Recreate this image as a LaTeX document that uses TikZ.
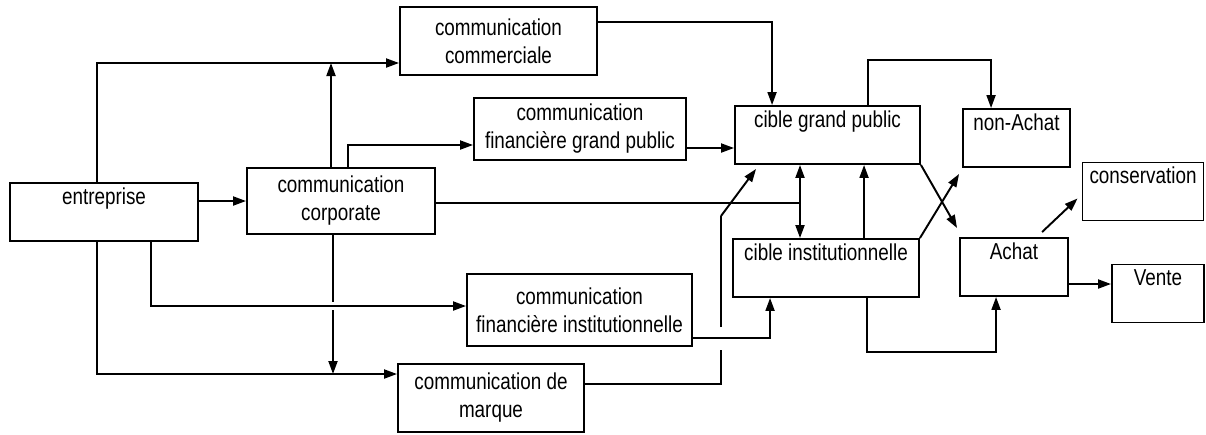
\documentclass[tikz,border=0pt]{standalone}
\usepackage{fontspec}
\setmainfont{Liberation Sans}[FakeStretch=0.82]
\usetikzlibrary{arrows.meta,calc}

\begin{document}
\begin{tikzpicture}[x=0.02cm,y=-0.02cm,line width=1.1pt,
  box/.style={draw,align=center,inner sep=0pt,font=\fontsize{13.1pt}{15.9pt}\selectfont},
  topbox/.style={box,inner ysep=0.08cm,text height=0.34cm,text depth=0.66cm},
  arr/.style={-{Triangle[length=0.26cm,width=0.18cm]}},
  dbl/.style={{Triangle[length=0.26cm,width=0.18cm]}-{Triangle[length=0.26cm,width=0.18cm]}}]
\useasboundingbox (0,0) rectangle (1206,434);

\node[topbox,minimum width=3.76cm] (E) at (104,212) {entreprise};
\node[box,minimum width=3.76cm,minimum height=1.32cm] (CO) at (341,201) {communication\\corporate};
\node[box,minimum width=3.94cm,minimum height=1.36cm] (CM) at (498.5,41) {communication\\commerciale};
\node[box,minimum width=4.24cm,minimum height=1.24cm] (FG) at (580,129) {communication\\financière grand public};
\node[box,minimum width=4.5cm,minimum height=1.44cm] (FI) at (579.5,310) {communication\\financière institutionnelle};
\node[box,minimum width=3.72cm,minimum height=1.36cm] (MQ) at (491,398) {communication de\\marque};
\node[topbox,minimum width=3.7cm] (GP) at (827.5,135) {cible grand public};
\node[topbox,minimum width=3.72cm] (CI) at (826,268) {cible institutionnelle};
\node[topbox,minimum width=2.14cm] (NA) at (1016.5,138) {non-Achat};
\node[topbox,minimum width=2.42cm] (CS) at (1143,191.5) {conservation};
\node[topbox,minimum width=2.16cm] (A) at (1014,267) {Achat};
\node[topbox,minimum width=1.84cm] (V) at (1158,293.5) {Vente};

\coordinate (J1) at (331,63);
\coordinate (J2) at (333,374);
\coordinate (H1) at (333,302);
\coordinate (H2) at (333,310);
\coordinate (JD) at (800,203);
\coordinate (K1) at (721,350);
\coordinate (K2) at (721,327);
\coordinate (K3) at (721,216);

\draw[arr] (E.east |- CO) -- (CO);
\draw[arr] ($(E.north)+(-7,0)$) |- ($(CM.west)+(0,22)$);
\draw[arr] (CO.north -| J1) -- (J1);
\draw[arr] ($(CO.north)+(7,0)$) |- ($(FG.west)+(0,16)$);
\draw (CO.east |- JD) -- (JD);
\draw[dbl] (GP.south -| JD) -- (CI.north -| JD);
\draw[arr] ($(E.south)+(-7,0)$) |- ($(MQ.west)+(0,-24)$);
\draw[arr] ($(E.south)+(47,0)$) |- ($(FI.west)+(0,-4)$);
\draw (CO.south -| H1) -- (H1);
\draw[arr] (H2) -- (J2);

\draw[arr] ($(CM.east)+(0,-19)$) -| ($(GP.north west)+(38,0)$);
\draw[arr] ($(FG.east)+(0,19)$) -- ($(GP.west)+(0,13)$);
\draw ($(MQ.east)+(0,-14)$) -| (K1);
\draw (K2) -- (K3);
\draw[arr] (K3) -- ($(GP.south west)+(22,4)$);
\draw[arr] ($(FI.east)+(0,28)$) -| ($(CI.south west)+(38,0)$);

\draw[arr] ($(CI.north west)+(132,0)$) -- ($(GP.south west)+(130,0)$);
\draw[arr] ($(GP.north west)+(134,0)$) -- ++(0,-45) -| ($(NA.north west)+(29,0)$);
\draw[arr] (GP.south east) -- ($(A.north west)+(-2,-9)$);
\draw[arr] (CI.north east) -- ($(NA.south west)+(-3,6)$);
\draw[arr] ($(CI.south west)+(135,0)$) -- ++(0,54) -| ($(A.south west)+(37,0)$);
\draw[arr] ($(A.north west)+(83,-5)$) -- ($(CS.south west)+(-4,-23)$);
\draw[arr] ($(A.east)+(0,17)$) -- ($(V.west)+(0,-9.5)$);

\end{tikzpicture}
\end{document}
